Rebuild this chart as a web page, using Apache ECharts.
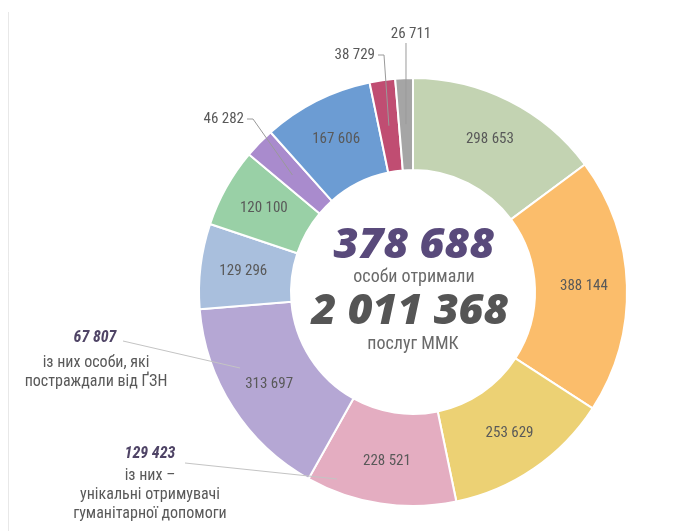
<!DOCTYPE html>
<html>
<head>
<meta charset="utf-8">
<script src="https://cdn.jsdelivr.net/npm/echarts@6/dist/echarts.min.js"></script>
<style>
  html, body { margin: 0; padding: 0; background: #fff; }
  #app { width: 690px; height: 531px; }
</style>
</head>
<body>
<div id="app"></div>
<script>
// дані по послугах (за годинниковою стрілкою від верху)
const values = [298653, 388144, 253629, 228521, 313697, 129296, 120100, 46282, 167606, 38729, 26711];
const colors = ['#c3d3b2', '#fbbd6b', '#ecd174', '#e4adc1', '#b5a7d4', '#a9bfdd', '#99d0a6', '#a98bcd', '#6c9cd3', '#c04d72', '#a5a5a5'];
const outsideIdx = [7, 9, 10];

const totalPeople = '378 688';
const totalServices = '2 011 368';
const noteValues = ['67 807', '129 423'];
const noteTexts = [['із них особи, які', 'постраждали від ҐЗН'], ['із них –', 'унікальні отримувачі', 'гуманітарної допомоги']];

const fmt = v => String(v).replace(/\B(?=(\d{3})+(?!\d))/g, ' ');
const narrow = "'Liberation Sans Narrow', 'Roboto Condensed', 'Liberation Sans', sans-serif";
const bold = "'Open Sans', sans-serif";

const cx = 413, cy = 292;
const rIn = 122, rOut = 214;
// де стоять виносні підписи
const outsidePos = {
  7: { x: 244, y: 119, align: 'right' },
  9: { x: 375, y: 55, align: 'right' },
  10: { x: 411, y: 34, align: 'center' }
};

// точка всередині сектора (середина кільця)
const total = values.reduce((a, b) => a + b, 0);
function midPoint(i, r) {
  let cum = 0;
  for (let j = 0; j < i; j++) cum += values[j];
  const a = (90 - 360 * (cum + values[i] / 2) / total) * Math.PI / 180;
  return [cx + r * Math.cos(a), cy - r * Math.sin(a)];
}

const leaderLines = outsideIdx.map(i => {
  const pos = outsidePos[i];
  const p = midPoint(i, (rIn + rOut) / 2);
  const pts = pos.align === 'right'
    ? [[pos.x + 3, pos.y], [pos.x + 9, pos.y], p]
    : [[p[0], pos.y + 9], p];
  return { type: 'polyline', z: 10, shape: { points: pts }, style: { stroke: '#9a9a9a', lineWidth: 1, fill: null } };
});

var myChart = echarts.init(document.getElementById('app'));

let option = {
  backgroundColor: '#fff',
  series: [
    {
      type: 'pie',
      center: [cx, cy],
      radius: [rIn, rOut],
      startAngle: 90,
      clockwise: true,
      silent: true,
      itemStyle: { borderColor: '#fff', borderWidth: 2 },
      label: {
        show: true,
        position: 'inside',
        color: '#595959',
        fontFamily: narrow,
        fontSize: 15,
        formatter: p => fmt(p.value)
      },
      labelLine: { show: false },
      data: values.map((v, i) => {
        const d = { value: v, itemStyle: { color: colors[i] } };
        if (outsideIdx.includes(i)) {
          d.label = { position: 'outside', color: '#595959' };
          d.labelLine = { show: false };
        }
        return d;
      }),
      labelLayout: function (params) {
        const pos = outsidePos[params.dataIndex];
        if (!pos) return {};
        return { x: pos.x, y: pos.y, align: pos.align, verticalAlign: 'middle' };
      }
    }
  ],
  graphic: leaderLines.concat([
    { type: 'line', shape: { x1: 8.5, y1: 12, x2: 8.5, y2: 531 }, style: { stroke: '#e8e8e8', lineWidth: 1 } },
    { type: 'text', x: cx + 1, y: 246, style: { text: totalPeople, fill: '#594a7b', font: 'italic 800 43px ' + bold, align: 'center', verticalAlign: 'middle' } },
    { type: 'text', x: cx + 1, y: 277, style: { text: 'особи отримали', fill: '#6a6a6a', font: '18px ' + narrow, align: 'center', verticalAlign: 'middle' } },
    { type: 'text', x: cx - 3, y: 312, style: { text: totalServices, fill: '#555', font: 'italic 800 43px ' + bold, align: 'center', verticalAlign: 'middle' } },
    { type: 'text', x: cx, y: 344, style: { text: 'послуг ММК', fill: '#6a6a6a', font: '18px ' + narrow, align: 'center', verticalAlign: 'middle' } },
    // примітка 1
    { type: 'text', x: 95, y: 338, style: { text: noteValues[0], fill: '#4f4466', font: 'italic bold 16px ' + narrow, align: 'center', verticalAlign: 'middle' } },
    { type: 'text', x: 96, y: 372, style: { text: noteTexts[0].join('\n'), fill: '#595959', font: '16px ' + narrow, lineHeight: 19, align: 'center', verticalAlign: 'middle' } },
    { type: 'line', z: 10, shape: { x1: 123, y1: 341, x2: 240, y2: 368 }, style: { stroke: '#c4c4c4', lineWidth: 1 } },
    // примітка 2
    { type: 'text', x: 150, y: 454, style: { text: noteValues[1], fill: '#4f4466', font: 'italic bold 16px ' + narrow, align: 'center', verticalAlign: 'middle' } },
    { type: 'text', x: 150, y: 495, style: { text: noteTexts[1].join('\n'), fill: '#595959', font: '16px ' + narrow, lineHeight: 19, align: 'center', verticalAlign: 'middle' } },
    { type: 'line', z: 10, shape: { x1: 185, y1: 463, x2: 337, y2: 479 }, style: { stroke: '#c4c4c4', lineWidth: 1 } }
  ])
};

myChart.setOption(option);
</script>
</body>
</html>
